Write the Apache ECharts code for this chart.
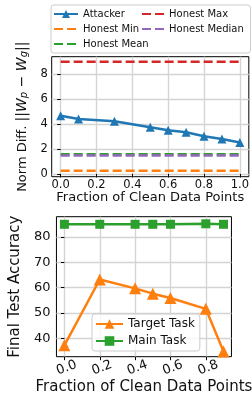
<!DOCTYPE html>
<html>
<head>
<meta charset="utf-8">
<script src="https://cdn.jsdelivr.net/npm/echarts@6/dist/echarts.min.js"></script>
<style>
  html, body { margin: 0; padding: 0; background: #fff; }
  #chart { width: 252px; height: 398px; }
</style>
</head>
<body>
<div id="chart"></div>
<script>
// top panel: norm difference vs fraction of clean data
var fracTop = [0.0, 0.1, 0.3, 0.5, 0.6, 0.7, 0.8, 0.9, 1.0];
var attackerNorm = [4.65, 4.39, 4.21, 3.73, 3.49, 3.33, 3.02, 2.8, 2.51];
var honestSpan = [0.0, 1.0];
var honestMin = 0.26;
var honestMean = 1.58;
var honestMax = 8.97;
var honestMedian = 1.48;
var xTicksTop = [0, 0.2, 0.4, 0.6, 0.8, 1.0];
var yTicksTop = [0, 2, 4, 6, 8];

// bottom panel: accuracy vs fraction of clean data
var fracBottom = [0.0, 0.2, 0.4, 0.5, 0.6, 0.8, 0.9];
var targetAcc = [37.2, 63.2, 59.7, 57.6, 55.9, 51.6, 34.8];
var mainAcc = [85.0, 85.0, 85.0, 85.0, 85.0, 85.2, 85.0];
var xTicksBottom = [0, 0.2, 0.4, 0.6, 0.8];
var yTicksBottom = [40, 50, 60, 70, 80];

var FONT = 'DejaVu Sans';
var C = { blue: '#1f77b4', orange: '#ff7f0e', green: '#2ca02c', red: '#d62728', purple: '#9467bd' };

function pairs(xs, ys) {
  return xs.map(function (x, i) { return [x, ys[i]]; });
}
function flat(v) {
  return honestSpan.map(function (x) { return [x, v]; });
}
// legend entry with the dashed line only (hide the symbol in the middle)
function lineOnly(name) {
  return { name: name, itemStyle: { opacity: 0, borderWidth: 0 } };
}

var gridLine = { show: true, lineStyle: { color: '#d4d4d4', width: 1.4 } };
var tick = { show: true, length: 3.5, inside: false, lineStyle: { color: '#000', width: 1 } };

function honest(name, v, color) {
  return {
    name: name, type: 'line', xAxisIndex: 0, yAxisIndex: 0,
    data: flat(v), symbol: 'none', silent: true,
    lineStyle: { color: color, width: 2.5, type: [9, 4] },
    itemStyle: { color: color }
  };
}

var chart = echarts.init(document.getElementById('chart'), null, { renderer: 'canvas' });

var option = {
  animation: false,
  textStyle: { fontFamily: FONT },
  graphic: [{
    type: 'rect',
    shape: { x: 51, y: 5, width: 199.5, height: 48, r: 3 },
    style: { fill: 'rgba(255,255,255,0.8)', stroke: '#cccccc', lineWidth: 1 }
  }],
  legend: [
    {
      orient: 'vertical', left: 53, top: 8, padding: 0, itemGap: 3,
      itemWidth: 24, itemHeight: 10,
      textStyle: { fontSize: 10, fontFamily: FONT, color: '#111', lineHeight: 12 },
      data: ['Attacker', lineOnly('Honest Min'), lineOnly('Honest Mean')]
    },
    {
      orient: 'vertical', left: 141, top: 8, padding: 0, itemGap: 3,
      itemWidth: 22, itemHeight: 10,
      textStyle: { fontSize: 10, fontFamily: FONT, color: '#111', lineHeight: 12 },
      data: [lineOnly('Honest Max'), lineOnly('Honest Median')]
    },
    {
      orient: 'vertical', left: 92, top: 314, padding: [4, 5, 4, 3], itemGap: 5,
      itemWidth: 27, itemHeight: 12,
      backgroundColor: 'rgba(255,255,255,0.8)', borderColor: '#cccccc', borderWidth: 1, borderRadius: 3,
      textStyle: { fontSize: 12, fontFamily: FONT, color: '#111', lineHeight: 12 },
      data: ['Target Task', 'Main Task']
    }
  ],
  grid: [
    { left: 51.7, right: 1.3, top: 56.7, height: 120, show: true, borderColor: '#000', borderWidth: 1 },
    { left: 51.7, right: 8.7, top: 216.7, height: 140, show: true, borderColor: '#000', borderWidth: 1 }
  ],
  xAxis: [
    {
      type: 'value', gridIndex: 0, min: -0.05, max: 1.05,
      name: 'Fraction of Clean Data Points', nameLocation: 'middle', nameGap: 14,
      nameTextStyle: { fontSize: 13, color: '#111', fontFamily: FONT },
      axisLine: { show: false },
      axisTick: Object.assign({ customValues: xTicksTop }, tick),
      axisLabel: {
        customValues: xTicksTop, fontSize: 11.5, color: '#111', margin: 2,
        formatter: function (v) { return v.toFixed(1); }
      },
      splitLine: gridLine
    },
    {
      type: 'value', gridIndex: 1, min: -0.045, max: 0.945,
      name: 'Fraction of Clean Data Points', nameLocation: 'middle', nameGap: 23,
      nameTextStyle: { fontSize: 15, color: '#111', fontFamily: FONT },
      axisLine: { show: false },
      axisTick: Object.assign({ customValues: xTicksBottom }, tick),
      axisLabel: {
        customValues: xTicksBottom, fontSize: 13, color: '#111', margin: 5,
        rotate: 20, align: 'center', verticalAlign: 'top',
        formatter: function (v) { return v.toFixed(1); }
      },
      splitLine: gridLine
    }
  ],
  yAxis: [
    {
      type: 'value', gridIndex: 0, min: -0.22, max: 9.38,
      name: '{n|Norm Diff. }{m|||}{i|W}{s|p}{m| − }{i|W}{s|g}{m|||}',
      nameLocation: 'middle', nameGap: 13, nameRotate: 90,
      nameTextStyle: {
        fontSize: 13, color: '#111', fontFamily: FONT,
        rich: {
          n: { fontSize: 13, fontFamily: FONT, color: '#111', lineHeight: 16, verticalAlign: 'bottom' },
          m: { fontSize: 14, fontFamily: FONT, color: '#111', lineHeight: 16, verticalAlign: 'bottom' },
          i: { fontSize: 14, fontFamily: FONT, color: '#111', fontStyle: 'italic', lineHeight: 16, verticalAlign: 'bottom' },
          s: { fontSize: 10, fontFamily: FONT, color: '#111', fontStyle: 'italic', lineHeight: 9, verticalAlign: 'bottom' }
        }
      },
      axisLine: { show: false },
      axisTick: Object.assign({ customValues: yTicksTop }, tick),
      axisLabel: { customValues: yTicksTop, fontSize: 11.5, color: '#111', margin: 4 },
      splitLine: gridLine
    },
    {
      type: 'value', gridIndex: 1, min: 32.7, max: 88.0,
      name: 'Final Test Accuracy', nameLocation: 'middle', nameGap: 27, nameRotate: 90,
      nameTextStyle: { fontSize: 15, color: '#111', fontFamily: FONT },
      axisLine: { show: false },
      axisTick: Object.assign({ customValues: yTicksBottom }, tick),
      axisLabel: { customValues: yTicksBottom, fontSize: 13, color: '#111', margin: 6 },
      splitLine: gridLine
    }
  ],
  series: [
    {
      name: 'Attacker', type: 'line', xAxisIndex: 0, yAxisIndex: 0,
      data: pairs(fracTop, attackerNorm),
      symbol: 'triangle', symbolSize: 9,
      lineStyle: { color: C.blue, width: 2.5 },
      itemStyle: { color: C.blue }
    },
    honest('Honest Min', honestMin, C.orange),
    honest('Honest Mean', honestMean, C.green),
    honest('Honest Max', honestMax, C.red),
    honest('Honest Median', honestMedian, C.purple),
    {
      name: 'Target Task', type: 'line', xAxisIndex: 1, yAxisIndex: 1,
      data: pairs(fracBottom, targetAcc),
      symbol: 'triangle', symbolSize: 12,
      lineStyle: { color: C.orange, width: 2.5 },
      itemStyle: { color: C.orange }
    },
    {
      name: 'Main Task', type: 'line', xAxisIndex: 1, yAxisIndex: 1,
      data: pairs(fracBottom, mainAcc),
      symbol: 'rect', symbolSize: 9,
      lineStyle: { color: C.green, width: 2.5 },
      itemStyle: { color: C.green }
    }
  ]
};

chart.setOption(option);
</script>
</body>
</html>
